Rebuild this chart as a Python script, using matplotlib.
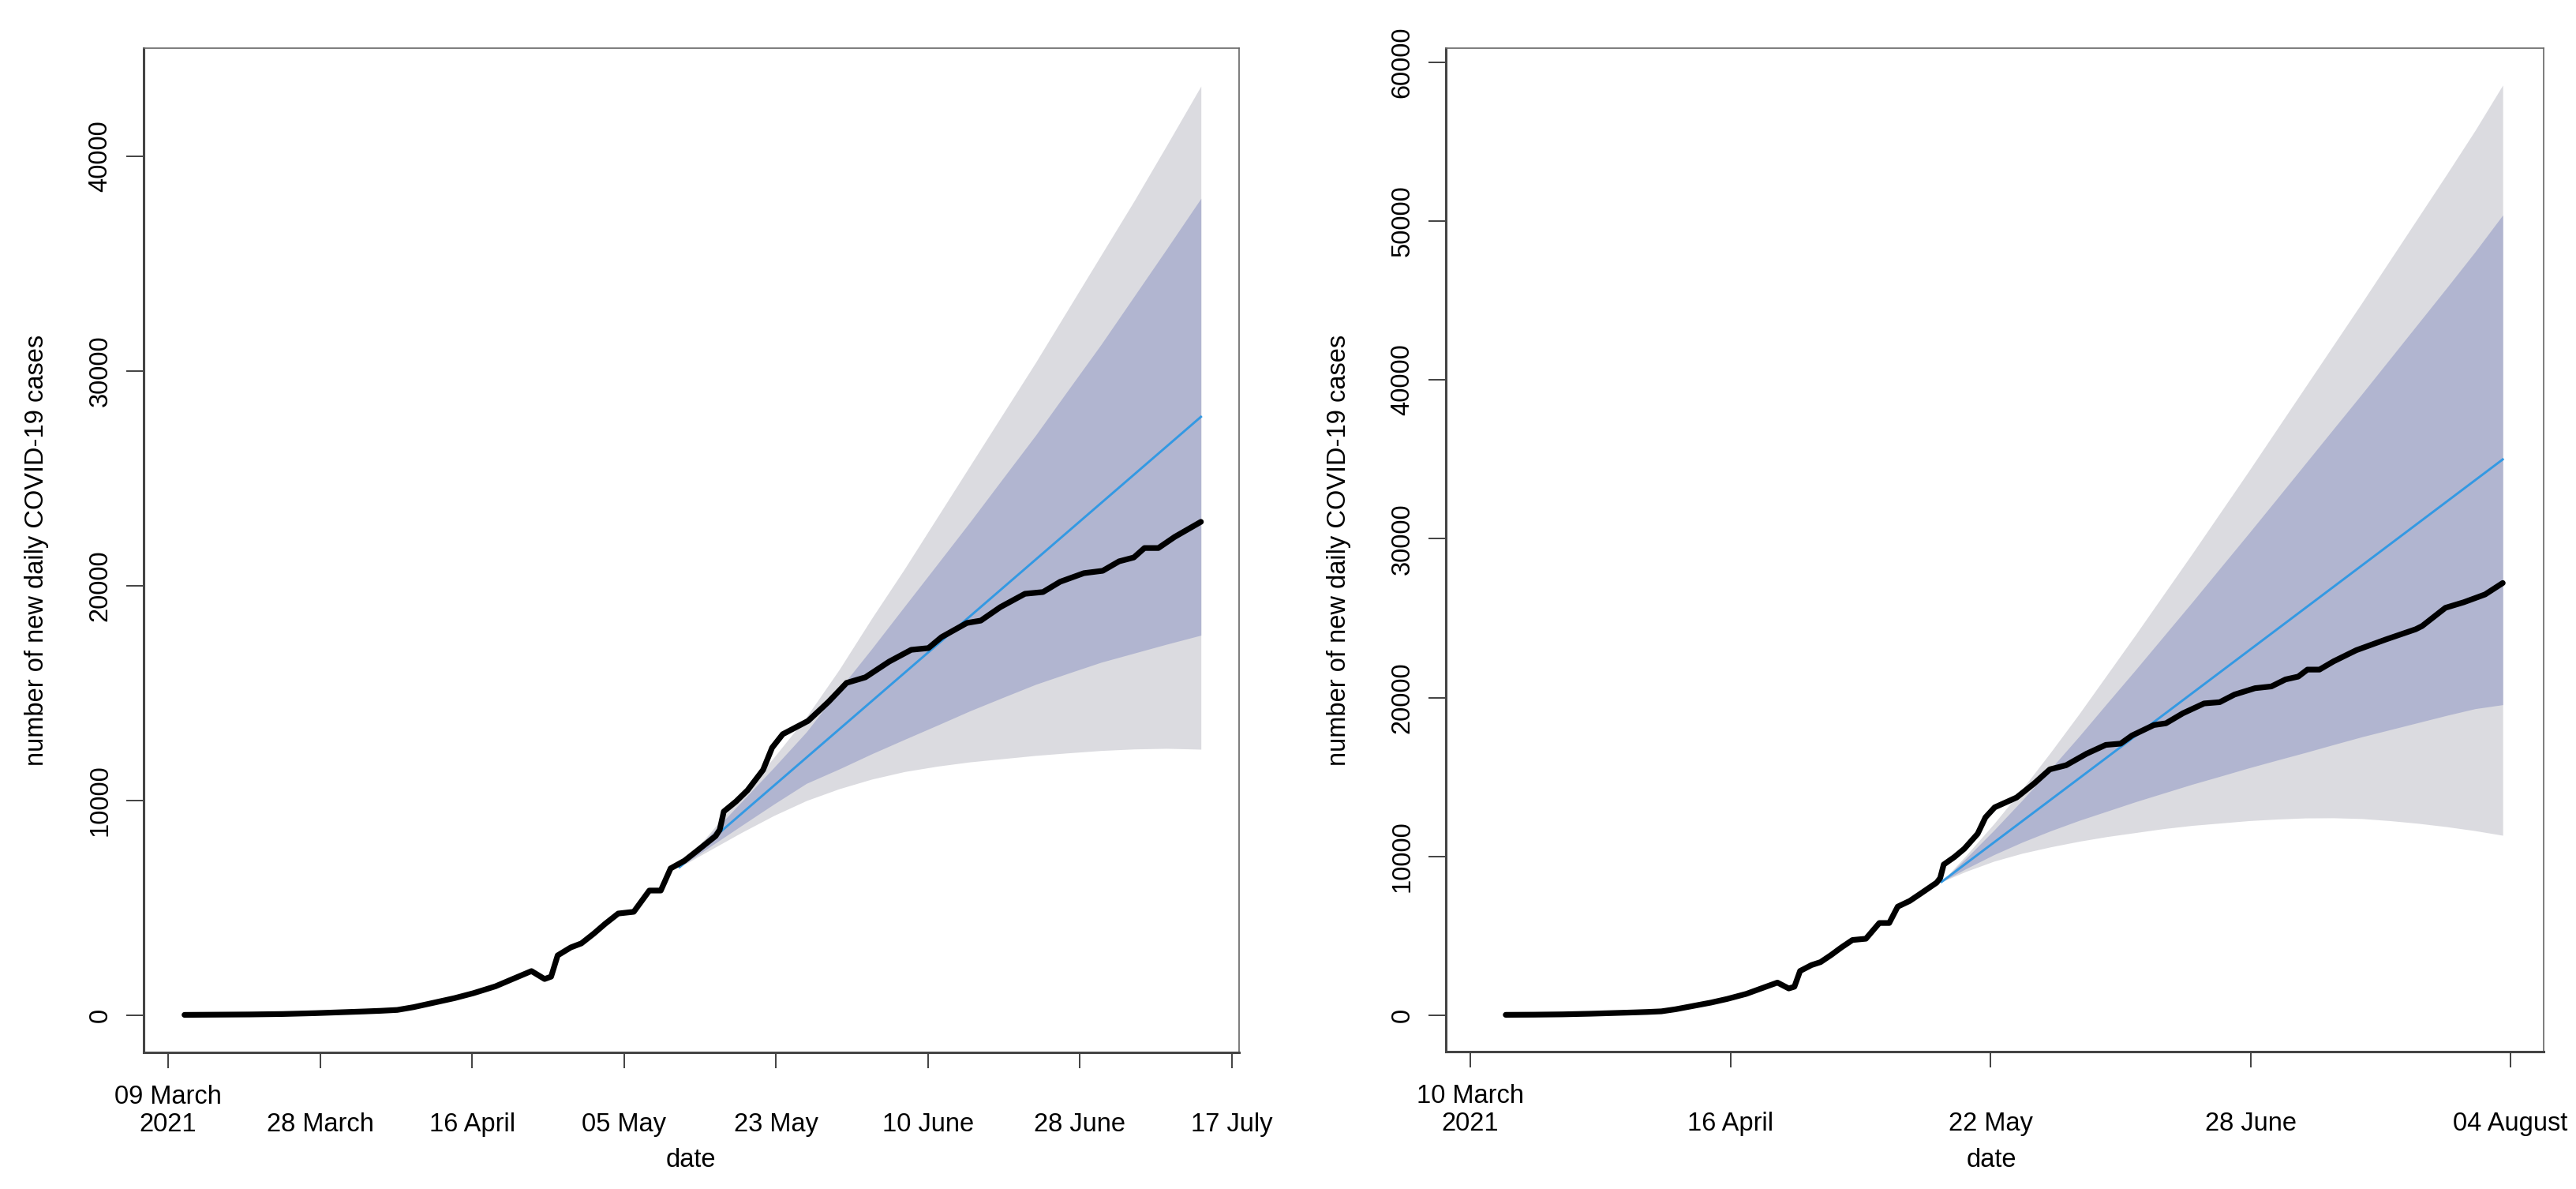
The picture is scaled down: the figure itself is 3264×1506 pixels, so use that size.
import numpy as np
import matplotlib
matplotlib.use("Agg")
import matplotlib.pyplot as plt

plt.rcParams['font.family'] = ['Liberation Sans', 'DejaVu Sans']

BASE = np.datetime64('2021-03-09')

# ---------------- observed daily cases (day 0 = 09 March 2021) ----------------
obs_day = np.array([2, 6, 10, 14, 18, 21, 24, 26, 28, 30, 32.5, 35, 37.3, 40, 42.1, 44.4,
                    46.0, 46.8, 47.6, 49.2, 50.5, 52, 53.4, 55.0, 56.9, 58.8, 60.2, 61.4,
                    63.1, 64.6, 66.9, 67.4, 67.9, 69.4, 70.8, 72.7, 73.8, 75.1, 78.2, 80.7,
                    82.9, 85.2, 88.1, 90.8, 92.9, 94.5, 97.6, 99.3, 101.7, 104.7, 106.9,
                    109.0, 111.9, 114.2, 116.2, 118.0, 119.3, 121.0, 123.0, 126.2, 130.4,
                    134.6, 135.5, 138.8, 141.4, 144.4, 146.9])
obs_cases = np.array([20, 30, 40, 60, 100, 140, 180, 210, 250, 380, 590, 800, 1030, 1350,
                      1690, 2060, 1690, 1800, 2790, 3160, 3350, 3800, 4260, 4740, 4820,
                      5810, 5810, 6840, 7200, 7650, 8350, 8640, 9490, 9960, 10480, 11430,
                      12460, 13090, 13710, 14600, 15480, 15740, 16470, 17020, 17100, 17610,
                      18270, 18380, 19010, 19630, 19710, 20190, 20590, 20700, 21140, 21320,
                      21760, 21760, 22280, 22980, 23660, 24300, 24500, 25650, 26000, 26490,
                      27210])

# ---------------- left panel forecast ----------------
left_fc_day = np.array([62.5, 66, 70, 74, 78, 82, 86, 90, 94, 98, 102, 106, 110, 114, 118,
                        122, 126.2])
left_outer_hi = np.array([6900, 8400, 10200, 12000, 13900, 16100, 18500, 20800, 23200,
                          25600, 28000, 30400, 32900, 35400, 37900, 40500, 43270])
left_inner_hi = np.array([6900, 8300, 9920, 11530, 13200, 15170, 17080, 19050, 21010,
                          22980, 25000, 27010, 29130, 31240, 33460, 35680, 38040])
left_inner_lo = np.array([6900, 7800, 8820, 9830, 10800, 11470, 12180, 12850, 13510,
                          14180, 14800, 15410, 15930, 16440, 16860, 17280, 17700])
left_outer_lo = np.array([6900, 7650, 8500, 9300, 10000, 10550, 11000, 11350, 11600,
                          11800, 11950, 12100, 12220, 12330, 12400, 12430, 12390])
left_mean_day = np.array([62.5, 126.2])
left_mean = np.array([6900, 27870])

# ---------------- right panel forecast ----------------
right_fc_day = np.array([67.6, 71, 75, 79, 83, 87, 91, 95, 99, 103, 107, 111, 115, 119, 123,
                         127, 131, 135, 139, 143, 146.9])
right_outer_hi = np.array([8400, 10030, 12060, 14240, 16550, 18950, 21450, 23950, 26500,
                           29050, 31650, 34250, 36900, 39550, 42200, 44850, 47550, 50250,
                           52950, 55700, 58550])
right_inner_hi = np.array([8400, 9860, 11650, 13540, 15510, 17540, 19650, 21740, 23870,
                           26000, 28170, 30330, 32520, 34720, 36920, 39110, 41340, 43570,
                           45800, 48060, 50370])
right_inner_lo = np.array([8400, 9220, 10110, 10900, 11610, 12260, 12850, 13440, 13990,
                           14540, 15050, 15570, 16060, 16540, 17040, 17530, 17980, 18430,
                           18880, 19300, 19550])
right_outer_lo = np.array([8400, 9050, 9700, 10200, 10600, 10950, 11250, 11500, 11750,
                           11950, 12100, 12250, 12350, 12420, 12430, 12380, 12250, 12080,
                           11870, 11620, 11330])
right_mean_day = np.array([67.6, 146.9])
right_mean = np.array([8400, 34990])

# ---------------- axes text ----------------
left_tick_first, left_tick_last = '2021-03-09', '2021-07-17'
left_tick_labels = ["09 March\n2021", "28 March", "16 April", "05 May", "23 May",
                    "10 June", "28 June", "17 July"]
right_tick_first, right_tick_last = '2021-03-10', '2021-08-04'
right_tick_labels = ["10 March\n2021", "16 April", "22 May", "28 June", "04 August"]
left_yticks = [0, 10000, 20000, 30000, 40000]
right_yticks = [0, 10000, 20000, 30000, 40000, 50000, 60000]
ylabel = "number of new daily COVID-19 cases"
xlabel = "date"

OUTER = '#dbdbe0'
INNER = '#b1b5d0'
BLUE = '#3399e3'
FS = 23.5

fig = plt.figure(figsize=(32.64, 15.06), dpi=100)
W, H = 3264, 1506


def make_axes(x0, x1, y0, y1):
    return fig.add_axes([x0 / W, 1 - y1 / H, (x1 - x0) / W, (y1 - y0) / H])


def day(s):
    return float((np.datetime64(s) - BASE).astype(int))


def draw(ax, fc_day, olo, ohi, ilo, ihi, mday, mval, dmin, dmax, tfirst, tlast, tlabels,
         yticks, xlim, ylim):
    ax.fill_between(fc_day, olo, ohi, color=OUTER, lw=0, zorder=1)
    ax.fill_between(fc_day, ilo, ihi, color=INNER, lw=0, zorder=2)
    ax.plot(mday, mval, color=BLUE, lw=2.1, zorder=3)
    m = (obs_day >= dmin) & (obs_day <= dmax)
    ax.plot(obs_day[m], obs_cases[m], color='black', lw=5.2, zorder=4,
            solid_joinstyle='round', solid_capstyle='round')
    ax.set_xlim(*xlim)
    ax.set_ylim(*ylim)
    ticks = np.linspace(day(tfirst), day(tlast), len(tlabels))
    ax.set_xticks(ticks)
    labs = [t if '\n' in t else '\n' + t for t in tlabels]
    ax.set_xticklabels(labs, fontsize=FS, linespacing=1.15)
    ax.set_yticks(yticks)
    ax.set_yticklabels([str(v) for v in yticks], fontsize=FS, rotation=90, va='center')
    ax.tick_params(axis='x', length=14.5, width=1.3, color='#333333', pad=15)
    ax.tick_params(axis='y', length=15.5, width=1.3, color='#333333', pad=13)
    for s in ['top', 'right']:
        ax.spines[s].set_linewidth(1.2)
        ax.spines[s].set_color('#666666')
    for s in ['left', 'bottom']:
        ax.spines[s].set_linewidth(2.2)
        ax.spines[s].set_color('#444444')
    ax.set_ylabel(ylabel, fontsize=FS, va='center')
    ax.set_xlabel(xlabel, fontsize=FS, va='center')


# left panel: box x 182..1570, y 61..1333
axL = make_axes(182, 1570, 61, 1333)
draw(axL, left_fc_day, left_outer_lo, left_outer_hi, left_inner_lo, left_inner_hi,
     left_mean_day, left_mean, 0, 126.2, left_tick_first, left_tick_last, left_tick_labels,
     left_yticks, (-2.99, 130.86), (-1728, 45037))
axL.yaxis.set_label_coords((47 - 182) / 1388, 0.5)
axL.xaxis.set_label_coords((875 - 182) / 1388, (1333 - 1470) / 1272)

# right panel: box x 1832..3223, y 61..1332
axR = make_axes(1832, 3223, 61, 1332)
draw(axR, right_fc_day, right_outer_lo, right_outer_hi, right_inner_lo, right_inner_hi,
     right_mean_day, right_mean, 3, 146.9, right_tick_first, right_tick_last,
     right_tick_labels, right_yticks, (-2.46, 152.68), (-2286, 60875))
axR.yaxis.set_label_coords((1697 - 1832) / 1391, 0.5)
axR.xaxis.set_label_coords((2523 - 1832) / 1391, (1332 - 1470) / 1271)

fig.savefig('out.png', dpi=100, facecolor='white')
